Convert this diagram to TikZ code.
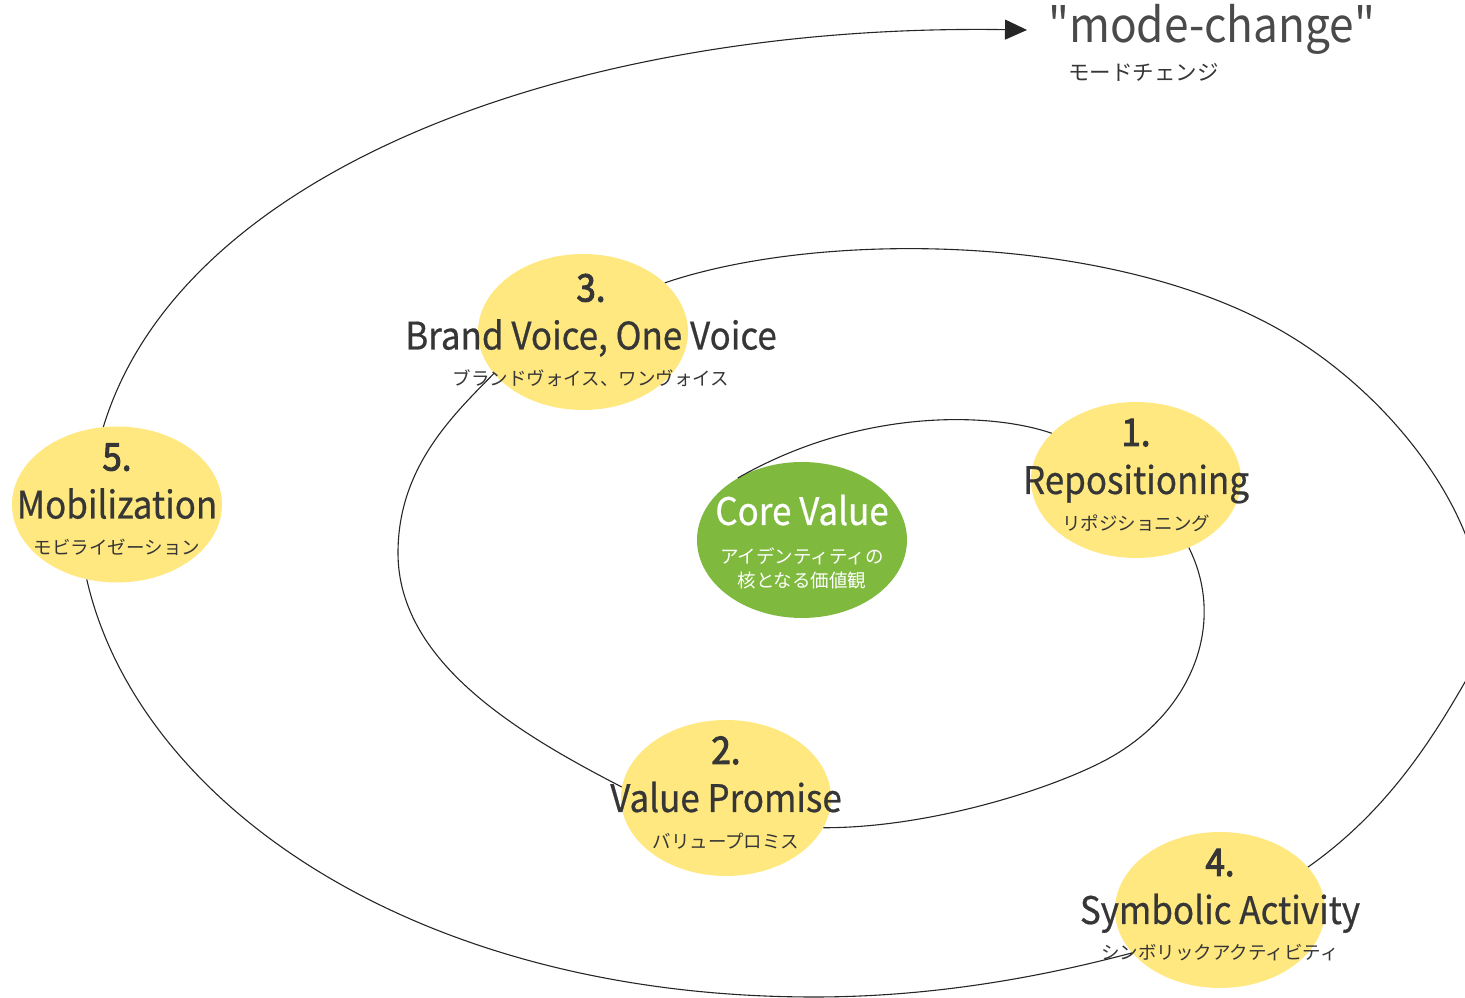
\documentclass[tikz,border=0pt]{standalone}
\usepackage{fontspec}
\setmainfont{Noto Sans CJK JP}
\newfontfamily\latinfont[FakeStretch=0.92, FakeBold=0.6, Ligatures=TeXOff]{Noto Sans CJK JP}
\newfontfamily\modefont[FakeStretch=0.92, Ligatures=TeXOff]{Noto Sans CJK JP}
\newfontfamily\numfont[FakeBold=2.6, FakeStretch=0.92]{Noto Sans CJK JP}
\usetikzlibrary{shapes.geometric,positioning,calc,arrows.meta}

\definecolor{stageyellow}{HTML}{FFE880}
\definecolor{coregreen}{HTML}{7FBA3F}
\definecolor{inkgray}{HTML}{363636}

\tikzset{
    stage/.style={ellipse, fill=stageyellow, minimum width=210pt, minimum height=156pt, inner sep=0pt},
    core/.style={stage, fill=coregreen},
    stepnum/.style={anchor=base, inner sep=0pt, text=inkgray, font=\numfont\fontsize{38}{40}\selectfont},
    stepname/.style={anchor=base, inner sep=0pt, text=inkgray, font=\latinfont\fontsize{38}{40}\selectfont},
    stepkana/.style={inner sep=0pt, text=inkgray, font=\fontsize{18.5}{20}\selectfont},
    spiral/.style={black!85, line width=1.1pt},
}

\begin{document}
\begin{tikzpicture}[x=1pt, y=1pt]
    \useasboundingbox (0,0) rectangle (1465,998);

    \node[core] (core) at (802,458) {};
    \node[stage] (s1) at ($(core)+(334,60)$) {};
    \node[stage] (s2) at ($(core)+(-76,-258)$) {};
    \node[stage] (s3) at ($(core)+(-219,208)$) {};
    \node[stage] (s4) at ($(core)+(418,-370)$) {};
    \node[stage] (s5) at ($(core)+(-685,35.5)$) {};

    \node[stepname, text=white] (c1) at ($(core)+(0,15)$) {Core Value};
    \node[stepkana, text=white] (c2) at ($(core)+(0,-16)$) {アイデンティティの};
    \node[stepkana, text=white] (c3) at ($(core)+(0,-41)$) {核となる価値観};

    \node[stepnum] (n1) at ($(s1)+(0,34)$) {1.};
    \node[stepname] (e1) at ($(s1)+(0,-14)$) {Repositioning};
    \node[stepkana] (k1) at ($(s1)+(0,-43)$) {リポジショニング};

    \node[stepnum] (n2) at ($(s2)+(0,34)$) {2.};
    \node[stepname] (e2) at ($(s2)+(0,-14)$) {Value Promise};
    \node[stepkana] (k2) at ($(s2)+(0,-43)$) {バリュープロミス};

    \node[stepnum] (n3) at ($(s3)+(8,30.5)$) {3.};
    \node[stepname] (e3) at ($(s3)+(8,-17.5)$) {Brand Voice, One Voice};
    \node[stepkana] (k3) at ($(s3)+(8,-46.5)$) {ブランドヴォイス、ワンヴォイス};

    \node[stepnum] (n4) at ($(s4)+(0,34)$) {4.};
    \node[stepname] (e4) at ($(s4)+(0,-14)$) {Symbolic Activity};
    \node[stepkana] (k4) at ($(s4)+(0,-43)$) {シンボリックアクティビティ};

    \node[stepnum] (n5) at ($(s5)+(0,34)$) {5.};
    \node[stepname] (e5) at ($(s5)+(0,-14)$) {Mobilization};
    \node[stepkana] (k5) at ($(s5)+(0,-43)$) {モビライゼーション};

    \node[stepname, anchor=base west, text=inkgray!90, font=\modefont\fontsize{48}{52}\selectfont] (mode) at (1048,955) {"mode-change"};
    \node[stepkana, anchor=west, font=\fontsize{21.5}{23}\selectfont] (modekana) at (1068,926) {モードチェンジ};
    \coordinate (modeend) at ($(mode.base west)+(-21,13)$);

    \draw[spiral] (core.136) .. controls (860,590) and (990,586) .. (s1.151);
    \draw[spiral] (s1.-52) .. controls (1228,372) and (1190,280) .. (1100,235)
        .. controls (1040,205) and (924,170) .. (s2.-17);
    \draw[spiral] (s2.174) .. controls (521,263) and (398,335) .. (398,445)
        .. controls (398,530) and (452,582) .. (s3.205);
    \draw[spiral] (s3.31) .. controls (820,768) and (1110,765) .. (1280,668)
        .. controls (1420,588) and (1525,420) .. (1465,316)
        .. controls (1430,255) and (1385,185) .. (s4.26);
    \draw[spiral] (s4.206) .. controls (1030,18) and (924,1) .. (814,1)
        .. controls (414,1) and (138,195) .. (s5.248);
    \draw[spiral, -{Triangle[length=22pt, width=20pt]}] (s5.100) .. controls (182,830) and (577,975) .. (modeend);
\end{tikzpicture}
\end{document}
